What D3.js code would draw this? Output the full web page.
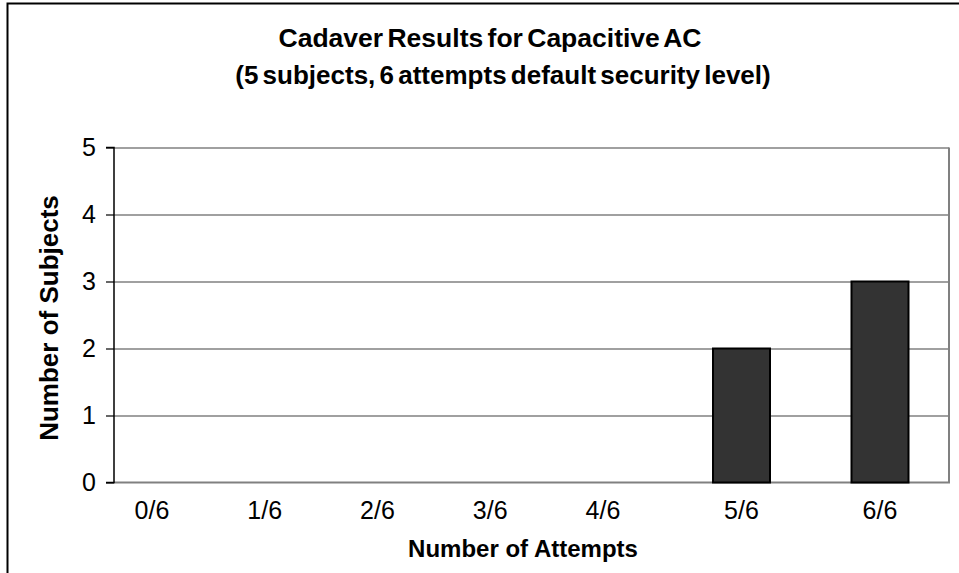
<!DOCTYPE html>
<html>
<head>
<meta charset="utf-8">
<script src="https://cdn.jsdelivr.net/npm/d3@7"></script>
<style>
  html, body { margin: 0; padding: 0; background: #fff; }
  svg { display: block; font-family: "Liberation Sans", Arial, sans-serif; }
</style>
</head>
<body>
<svg id="chart" width="959" height="573"></svg>
<script>
// Attempts that succeeded out of six, and how many subjects landed in each bucket
const categories = ["0/6", "1/6", "2/6", "3/6", "4/6", "5/6", "6/6"];
const subjects = [0, 0, 0, 0, 0, 2, 3];
const yTicks = [0, 1, 2, 3, 4, 5];
const titleLines = ["Cadaver Results for Capacitive AC", "(5 subjects, 6 attempts default security level)"];
const xTitle = "Number of Attempts";
const yTitle = "Number of Subjects";

const svg = d3.select("#chart");
const plot = { left: 114, right: 949, top: 147.5, bottom: 482.5 };

// outer chart frame
svg.append("rect")
  .attr("x", 7.5).attr("y", 3.5)
  .attr("width", 1000).attr("height", 700)
  .attr("fill", "none").attr("stroke", "#000").attr("stroke-width", 2);

const y = d3.scaleLinear().domain([0, 5]).range([plot.bottom, plot.top]);

// category centres: spacing widens toward the right-hand buckets
const xi = d3.scaleLinear()
  .domain([0, 4, 6])
  .range([plot.left + 38, plot.left + 489, plot.left + 766]);
const barWidth = 57;

// horizontal gridlines
svg.append("g").selectAll("line").data(yTicks.filter(d => d > 0)).join("line")
  .attr("x1", plot.left).attr("x2", plot.right)
  .attr("y1", d => y(d) + 0.5).attr("y2", d => y(d) + 0.5)
  .attr("stroke", "#808080").attr("stroke-width", 1.5);

// right and bottom plot border
svg.append("path")
  .attr("d", `M${plot.right},${plot.top}V${plot.bottom}H${plot.left}`)
  .attr("fill", "none").attr("stroke", "#808080").attr("stroke-width", 2);

// bars
svg.append("g").selectAll("rect").data(subjects.map((v, i) => ({ v, i })).filter(d => d.v > 0)).join("rect")
  .attr("x", d => xi(d.i) - barWidth / 2)
  .attr("y", d => y(d.v))
  .attr("width", barWidth)
  .attr("height", d => y(0) - y(d.v))
  .attr("fill", "#333333").attr("stroke", "#000").attr("stroke-width", 2);

// y axis
const yAxis = d3.axisLeft(y).tickValues(yTicks).tickSize(8).tickPadding(10).tickFormat(d3.format("d"));
const ga = svg.append("g").attr("transform", `translate(${plot.left},0)`).call(yAxis);
ga.select(".domain").attr("stroke", "#000").attr("stroke-width", 1.5).attr("d", `M-8,${plot.top}H0V${plot.bottom}H-8`);
ga.selectAll(".tick line").attr("stroke", "#000").attr("stroke-width", 1.2);
ga.selectAll(".tick text").attr("font-size", 25).attr("fill", "#000")
  .attr("font-family", "Liberation Sans, Arial, sans-serif");

// x category labels
svg.append("g").selectAll("text").data(categories).join("text")
  .attr("x", (d, i) => xi(i))
  .attr("y", 519)
  .attr("text-anchor", "middle")
  .attr("font-size", 25)
  .text(d => d);

// titles
const titleX = [490, 503], titleSize = [26.5, 26];
svg.append("g").selectAll("text").data(titleLines).join("text")
  .attr("x", (d, i) => titleX[i])
  .attr("y", (d, i) => 47 + i * 37)
  .attr("text-anchor", "middle")
  .attr("font-size", (d, i) => titleSize[i])
  .attr("font-weight", "bold")
  .attr("word-spacing", -3)
  .text(d => d);

svg.append("text")
  .attr("x", 523).attr("y", 557)
  .attr("text-anchor", "middle")
  .attr("font-size", 24).attr("font-weight", "bold")
  .text(xTitle);

svg.append("text")
  .attr("transform", "translate(58,318) rotate(-90)")
  .attr("text-anchor", "middle")
  .attr("font-size", 26).attr("font-weight", "bold")
  .text(yTitle);
</script>
</body>
</html>
